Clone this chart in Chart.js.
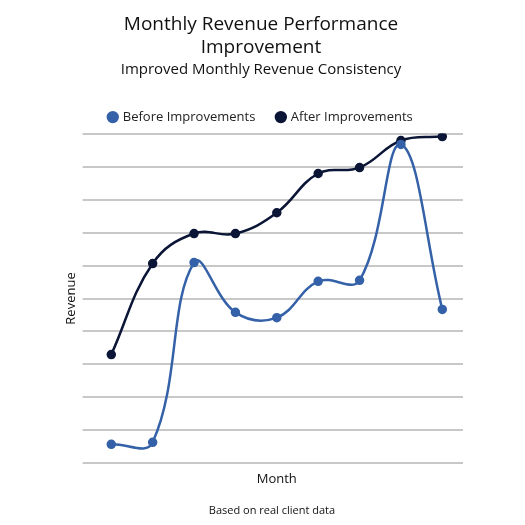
<!DOCTYPE html>
<html>
<head>
<meta charset="utf-8">
<script src="https://cdn.jsdelivr.net/npm/chart.js@4"></script>
<style>
  html, body { margin: 0; padding: 0; background: #fff; }
  #wrap { width: 525px; height: 525px; }
</style>
</head>
<body>
<div id="wrap"><canvas id="chart"></canvas></div>
<script>
// Values (no tick labels shown, scale 0..10)
const months = ['1', '2', '3', '4', '5', '6', '7', '8', '9'];
const beforeValues = [0.58, 0.64, 6.09, 4.58, 4.42, 5.52, 5.55, 9.67, 4.67];
const afterValues = [3.3, 6.06, 6.97, 6.97, 7.6, 8.79, 8.97, 9.79, 9.91];

const fontFamily = '"Open Sans", sans-serif';

const ctx = document.getElementById('chart').getContext('2d');
new Chart(ctx, {
    type: 'line',
    data: {
        labels: months,
        datasets: [{
            label: 'Before Improvements',
            data: beforeValues,
            borderColor: '#3461a8',
            backgroundColor: '#3461a8',
            borderWidth: 2.5,
            tension: 0.4,
            pointRadius: 3.5
        }, {
            label: 'After Improvements',
            data: afterValues,
            borderColor: '#0b1536',
            backgroundColor: '#0b1536',
            borderWidth: 2.5,
            tension: 0.4,
            pointRadius: 3.5
        }]
    },
    options: {
        responsive: true,
        maintainAspectRatio: false,
        animation: false,
        layout: { padding: { left: 59, right: 62, top: 5, bottom: 34 } },
        plugins: {
            title: {
                display: true,
                text: ['Monthly Revenue Performance', 'Improvement'],
                color: '#111',
                font: { family: fontFamily, size: 19, weight: 'normal' },
                padding: { top: 8, bottom: 2 }
            },
            subtitle: {
                display: true,
                text: 'Improved Monthly Revenue Consistency',
                color: '#111',
                font: { family: fontFamily, size: 15 },
                padding: { bottom: 10 }
            },
            legend: {
                labels: {
                    usePointStyle: true,
                    pointStyle: 'circle',
                    boxWidth: 7,
                    boxHeight: 7,
                    padding: 22,
                    color: '#222',
                    font: { family: fontFamily, size: 13 }
                }
            }
        },
        scales: {
            x: {
                offset: true,
                grid: { display: false },
                border: { display: false },
                ticks: { display: false },
                title: {
                    display: true,
                    text: 'Month',
                    color: '#111',
                    font: { family: fontFamily, size: 13 },
                    padding: { top: 0 }
                }
            },
            y: {
                min: 0,
                max: 10,
                grid: { color: '#c8c8c8', lineWidth: 2 },
                border: { display: false },
                ticks: { display: false, stepSize: 1 },
                title: {
                    display: true,
                    text: 'Revenue',
                    color: '#111',
                    font: { family: fontFamily, size: 13 }
                }
            }
        }
    },
    plugins: [{
        id: 'footer',
        afterDraw(chart) {
            const c = chart.ctx;
            c.save();
            c.font = '11px ' + fontFamily;
            c.fillStyle = '#111';
            c.textAlign = 'center';
            c.fillText('Based on real client data', 272, 511);
            c.restore();
        }
    }]
});
</script>
</body>
</html>
